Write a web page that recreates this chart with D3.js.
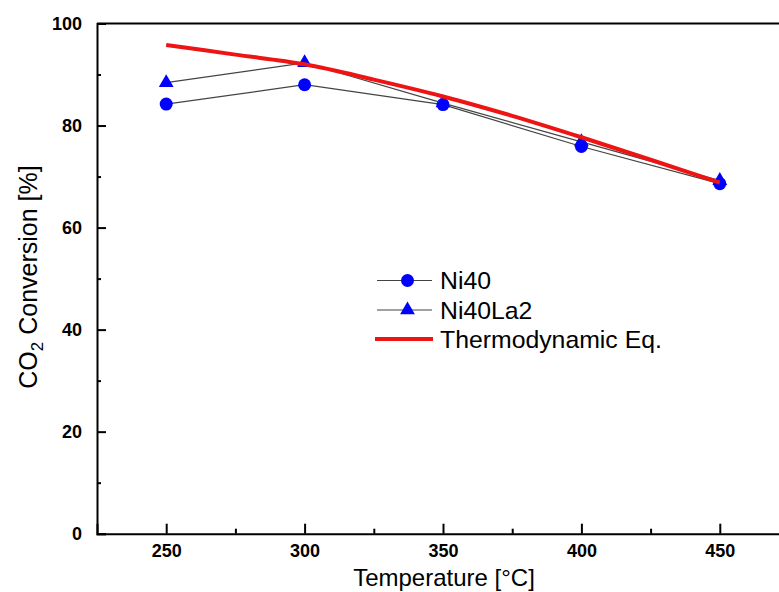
<!DOCTYPE html>
<html>
<head>
<meta charset="utf-8">
<script src="https://cdn.jsdelivr.net/npm/d3@7"></script>
<style>
html,body{margin:0;padding:0;background:#fff;}
svg{display:block;font-family:Arial,"Liberation Sans",sans-serif;}
</style>
</head>
<body>
<svg id="chart" width="779" height="592"></svg>
<script>
// ---- data ----
const temps = [250, 300, 350, 400, 450];
const ni40 = [84.2, 88.0, 84.1, 75.9, 68.6];
const ni40la2 = [88.4, 92.3, 84.4, 76.8, 69.2];
const thermoTemps = [250, 275, 300, 325, 350, 375, 400, 425, 450];
const thermoEq = [95.8, 93.9, 92.0, 89.0, 85.7, 81.9, 77.7, 73.3, 68.8];
const xMajorTicks = [250, 300, 350, 400, 450];
const xMinorTicks = [275, 325, 375, 425];
const yMajorTicks = [0, 20, 40, 60, 80, 100];
const yMinorTicks = [10, 30, 50, 70, 90];
const seriesNames = ["Ni40", "Ni40La2", "Thermodynamic Eq."];

const svg = d3.select("#chart");
const W = 779;
const x = d3.scaleLinear().domain([225, 475]).range([97, 789]);
const y = d3.scaleLinear().domain([0, 100]).range([533.7, 23.5]);

// top frame line
svg.append("line").attr("x1", x(225)).attr("x2", W).attr("y1", y(100)).attr("y2", y(100))
  .attr("stroke", "#000").attr("stroke-width", 2);

// y axis
svg.append("g").attr("transform", `translate(${x(225)},0)`)
  .call(d3.axisLeft(y).tickValues(yMajorTicks).tickSize(-9).tickPadding(15).tickFormat(d3.format("d")));
const yMin = svg.append("g").attr("transform", `translate(${x(225)},0)`)
  .call(d3.axisLeft(y).tickValues(yMinorTicks).tickSize(-4).tickFormat(""));
yMin.select(".domain").remove();

// x axis
svg.append("g").attr("transform", `translate(0,${y(0)})`)
  .call(d3.axisBottom(x).tickValues(xMajorTicks).tickSize(-10).tickPadding(11).tickFormat(d3.format("d")));
const xMin = svg.append("g").attr("transform", `translate(0,${y(0)})`)
  .call(d3.axisBottom(x).tickValues(xMinorTicks).tickSize(-5).tickFormat(""));
xMin.select(".domain").remove();

svg.selectAll(".domain").attr("stroke", "#000").attr("stroke-width", 2);
svg.selectAll(".tick line").attr("stroke", "#000").attr("stroke-width", 2);
svg.selectAll(".tick text").attr("font-size", 18).attr("font-weight", "bold")
  .attr("fill", "#000").attr("font-family", "Arial, 'Liberation Sans', sans-serif");

// axis titles
svg.append("text").attr("x", 444).attr("y", 586).attr("text-anchor", "middle")
  .attr("font-size", 24).attr("fill", "#000")
  .text("Temperature [°C]");
const yt = svg.append("text").attr("transform", "translate(37,277) rotate(-90)")
  .attr("text-anchor", "middle").attr("font-size", 25).attr("fill", "#000");
yt.append("tspan").text("CO");
yt.append("tspan").attr("font-size", 17).attr("dy", 6).text("2");
yt.append("tspan").attr("dy", -6).text(" Conversion [%]");

const blue = "#0000ff";
const red = "#ee1414";
const lineGray = "#444";

const line = d3.line().x(d => x(d[0])).y(d => y(d[1]));
const triSym = d3.symbol().type(d3.symbolTriangle).size(95);

// Ni40
const d1 = temps.map((t, i) => [t, ni40[i]]);
svg.append("path").attr("d", line(d1)).attr("fill", "none").attr("stroke", lineGray).attr("stroke-width", 1.2);
svg.selectAll(".c1").data(d1).enter().append("circle")
  .attr("cx", d => x(d[0])).attr("cy", d => y(d[1])).attr("r", 6.5).attr("fill", blue);

// Ni40La2
const d2 = temps.map((t, i) => [t, ni40la2[i]]);
svg.append("path").attr("d", line(d2)).attr("fill", "none").attr("stroke", lineGray).attr("stroke-width", 1.2);
svg.selectAll(".t2").data(d2).enter().append("path")
  .attr("d", triSym).attr("transform", d => `translate(${x(d[0])},${y(d[1])})`).attr("fill", blue);

// Thermodynamic equilibrium
const d3d = thermoTemps.map((t, i) => [t, thermoEq[i]]);
svg.append("path").attr("d", d3.line().x(d => x(d[0])).y(d => y(d[1])).curve(d3.curveMonotoneX)(d3d))
  .attr("fill", "none").attr("stroke", red).attr("stroke-width", 4);

// legend
const lg = svg.append("g");
const rows = [280.5, 310, 339];
const lx1 = 377, lx2 = 432, lmx = 407.5, ltx = 440;
[0, 1].forEach(i => {
  lg.append("line").attr("x1", lx1).attr("x2", lx2).attr("y1", rows[i]).attr("y2", rows[i])
    .attr("stroke", lineGray).attr("stroke-width", 1.2);
});
lg.append("circle").attr("cx", lmx).attr("cy", rows[0]).attr("r", 6.5).attr("fill", blue);
lg.append("path").attr("d", triSym).attr("transform", `translate(${lmx},${rows[1]})`).attr("fill", blue);
lg.append("line").attr("x1", 375).attr("x2", 433).attr("y1", rows[2]).attr("y2", rows[2])
  .attr("stroke", red).attr("stroke-width", 4);
seriesNames.forEach((n, i) => {
  lg.append("text").attr("x", ltx).attr("y", rows[i] + 8.5).attr("font-size", 24.8).attr("fill", "#000").text(n);
});
</script>
</body>
</html>
